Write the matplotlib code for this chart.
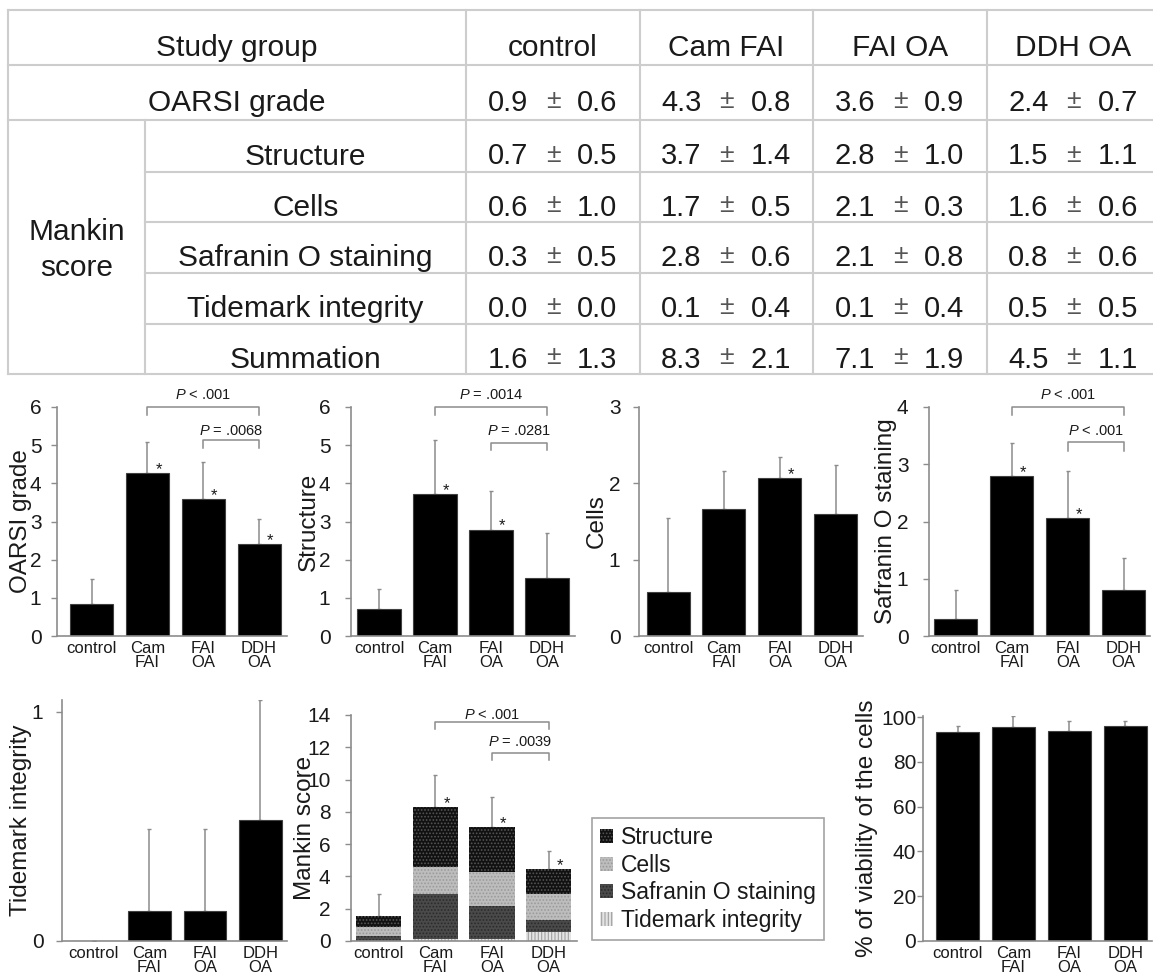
import matplotlib
matplotlib.use('Agg')
import matplotlib.pyplot as plt
from matplotlib.patches import Patch
import numpy as np

plt.rcParams['font.family'] = ['Liberation Sans', 'DejaVu Sans']
plt.rcParams['mathtext.fontset'] = 'custom'
plt.rcParams['mathtext.rm'] = 'Liberation Sans'
plt.rcParams['mathtext.it'] = 'Liberation Sans:italic'
plt.rcParams['hatch.linewidth'] = 0.8

# ---------------- data ----------------
table_groups = ['control', 'Cam FAI', 'FAI OA', 'DDH OA']
tick_labels = ['control', 'Cam\nFAI', 'FAI\nOA', 'DDH\nOA']
table_rows = ['OARSI grade', 'Structure', 'Cells', 'Safranin O staining',
              'Tidemark integrity', 'Summation']
tbl_oarsi = [(0.9, 0.6), (4.3, 0.8), (3.6, 0.9), (2.4, 0.7)]
tbl_structure = [(0.7, 0.5), (3.7, 1.4), (2.8, 1.0), (1.5, 1.1)]
tbl_cells = [(0.6, 1.0), (1.7, 0.5), (2.1, 0.3), (1.6, 0.6)]
tbl_safranin = [(0.3, 0.5), (2.8, 0.6), (2.1, 0.8), (0.8, 0.6)]
tbl_tidemark = [(0.0, 0.0), (0.1, 0.4), (0.1, 0.4), (0.5, 0.5)]
tbl_summation = [(1.6, 1.3), (8.3, 2.1), (7.1, 1.9), (4.5, 1.1)]

oarsi_mean = [0.84, 4.27, 3.60, 2.41]
oarsi_err = [0.66, 0.80, 0.96, 0.66]
structure_mean = [0.71, 3.73, 2.79, 1.53]
structure_err = [0.51, 1.40, 1.01, 1.16]
cells_mean = [0.57, 1.66, 2.07, 1.60]
cells_err = [0.97, 0.50, 0.27, 0.64]
safranin_mean = [0.29, 2.79, 2.06, 0.80]
safranin_err = [0.51, 0.58, 0.82, 0.57]
tidemark_mean = [0.0, 0.13, 0.13, 0.53]
tidemark_err = [0.0, 0.36, 0.36, 0.52]
mankin_err = [1.32, 2.0, 1.90, 1.13]
viability_mean = [93.2, 95.7, 93.6, 96.0]
viability_err = [2.9, 4.7, 4.6, 2.2]

oarsi_stars = [False, True, True, True]
structure_stars = [False, True, True, False]
cells_stars = [False, False, True, False]
safranin_stars = [False, True, True, False]
mankin_stars = [False, True, True, True]

# ---------------- figure ----------------
W, H = 1153, 977
fig = plt.figure(figsize=(W / 100, H / 100), dpi=100)
TXT = '#1a1a1a'
GRID = '#cdcdcd'
SP = '#8c8c8c'

# ---- table ----
tab = fig.add_axes([0, 0, 1, 1])
tab.set_xlim(0, W)
tab.set_ylim(H, 0)
tab.axis('off')

xl, xsub, xmain, xr = 8, 145, 466, 1160
col_lines = [466, 640, 813, 987, 1160]
row_lines = [10, 65, 120, 172, 222, 273, 324, 374]
lw_t = 1.5
for y in [row_lines[0], row_lines[1], row_lines[2], row_lines[-1]]:
    tab.plot([xl, xr], [y, y], color=GRID, lw=lw_t)
for y in row_lines[3:-1]:
    tab.plot([xsub, xr], [y, y], color=GRID, lw=lw_t)
for xx in [xl] + col_lines:
    tab.plot([xx, xx], [row_lines[0], row_lines[-1]], color=GRID, lw=lw_t)
tab.plot([xsub, xsub], [row_lines[2], row_lines[-1]], color=GRID, lw=lw_t)

fs_lab = 21.5
fs_num = 21
TSHIFT = 8


def ttext(x, yc, s, fs, ha='center', color=TXT):
    off = 0.36 * fs * 100 / 72
    tab.text(x, yc + off, s, fontsize=fs, ha=ha, va='baseline', color=color)


centers_y = [(row_lines[i] + row_lines[i + 1]) / 2 + TSHIFT for i in range(len(row_lines) - 1)]
col_cx = [(col_lines[i] + col_lines[i + 1]) / 2 for i in range(4)]
ttext((xl + xmain) / 2, centers_y[0], 'Study group', fs_lab)
for cx, g in zip(col_cx, table_groups):
    ttext(cx, centers_y[0], g, fs_lab)
ttext((xl + xmain) / 2, centers_y[1], table_rows[0], fs_lab)
for i, r in enumerate(table_rows[1:]):
    ttext((xsub + xmain) / 2, centers_y[2 + i], r, fs_lab)
mk_c = (row_lines[2] + row_lines[-1]) / 2
ttext((xl + xsub) / 2, mk_c - 18, 'Mankin', fs_lab)
ttext((xl + xsub) / 2, mk_c + 18, 'score', fs_lab)

tbl_all = [tbl_oarsi, tbl_structure, tbl_cells, tbl_safranin, tbl_tidemark, tbl_summation]
for ri, rowvals in enumerate(tbl_all):
    yc = centers_y[1 + ri]
    for cx, (m, s) in zip(col_cx, rowvals):
        ttext(cx - 25, yc, f'{m:.1f}', fs_num, ha='right')
        ttext(cx, yc - 2, '\u00b1', fs_num - 2, ha='center', color='#555555')
        ttext(cx + 24, yc, f'{s:.1f}', fs_num, ha='left')

# ---- charts ----
x = np.arange(4)
BW = 0.77


def add_ax(left, right, top, bottom):
    return fig.add_axes([left / W, 1 - bottom / H, (right - left) / W, (bottom - top) / H])


def style(ax, left, right, xlim, ylim, yticks, ylabel, lab_px, ypad):
    ax.set_xlim(*xlim)
    ax.set_ylim(*ylim)
    ax.set_yticks(yticks)
    ax.set_xticks(x)
    ax.set_xticklabels(tick_labels, fontsize=12, linespacing=0.95, color=TXT)
    for s in ['top', 'right']:
        ax.spines[s].set_visible(False)
    for s in ['left', 'bottom']:
        ax.spines[s].set_color(SP)
        ax.spines[s].set_linewidth(1.2)
    ax.tick_params(axis='x', length=0, pad=3.5)
    ax.tick_params(axis='y', length=4, width=1, color=SP, labelsize=15,
                   labelcolor=TXT, pad=ypad, direction='out')
    ax.set_ylabel(ylabel, fontsize=17.5, color=TXT)
    ax.yaxis.set_label_coords((lab_px - left) / (right - left), 0.5)
    ax.patch.set_alpha(0)


def bars(ax, mean, err):
    ax.bar(x, mean, width=BW, color='black', edgecolor='#404040', lw=0.8, zorder=2)
    ax.errorbar(x, mean, yerr=[np.zeros(4), err], fmt='none', ecolor=SP,
                elinewidth=1.1, capsize=1.5, capthick=1.0, zorder=1)


def stars(ax, mean, flags):
    for i, (m, f) in enumerate(zip(mean, flags)):
        if f:
            ax.annotate('*', (i + 0.2, m), xytext=(0, 2.5), textcoords='offset points',
                        ha='center', va='center', fontsize=12, color=TXT)


def bracket(ax, x1, x2, y, leg, text, ty):
    ax.plot([x1, x1, x2, x2], [leg, y, y, leg], color=SP, lw=1.1, clip_on=False)
    ax.text((x1 + x2) / 2, ty, text, ha='center', va='center', fontsize=10.5,
            color=TXT, clip_on=False)


# chart 1: OARSI
ax1 = add_ax(57, 287, 407, 636)
bars(ax1, oarsi_mean, oarsi_err)
stars(ax1, oarsi_mean, oarsi_stars)
style(ax1, 57, 287, (-0.62, 3.5), (0, 6), range(0, 7), 'OARSI grade', 32, 7.2)
bracket(ax1, 1, 3, 6.0, 5.8, r'$P$ < .001', 6.31)
bracket(ax1, 2, 3, 5.14, 4.92, r'$P$ = .0068', 5.37)

# chart 2: Structure
ax2 = add_ax(351, 575, 407, 636)
bars(ax2, structure_mean, structure_err)
stars(ax2, structure_mean, structure_stars)
style(ax2, 351, 575, (-0.5, 3.5), (0, 6), range(0, 7), 'Structure', 320, 10.8)
bracket(ax2, 1, 3, 6.0, 5.8, r'$P$ = .0014', 6.31)
bracket(ax2, 2, 3, 5.06, 4.87, r'$P$ = .0281', 5.37)

# chart 3: Cells
ax3 = add_ax(639, 863, 407, 636)
bars(ax3, cells_mean, cells_err)
stars(ax3, cells_mean, cells_stars)
style(ax3, 639, 863, (-0.52, 3.49), (0, 3), range(0, 4), 'Cells', 608, 9.4)

# chart 4: Safranin O
ax4 = add_ax(929, 1150, 407, 636)
bars(ax4, safranin_mean, safranin_err)
stars(ax4, safranin_mean, safranin_stars)
style(ax4, 929, 1150, (-0.48, 3.47), (0, 4), range(0, 5), 'Safranin O staining', 897, 10.8)
bracket(ax4, 1, 3, 4.0, 3.86, r'$P$ < .001', 4.21)
bracket(ax4, 2, 3, 3.38, 3.24, r'$P$ < .001', 3.58)

# chart 5: Tidemark
ax5 = add_ax(62, 287, 700, 941)
bars(ax5, tidemark_mean, tidemark_err)
style(ax5, 62, 287, (-0.575, 3.48), (0, 1.052), [0, 1], 'Tidemark integrity', 32, 9.4)

# chart 6: Mankin stacked
ax6 = add_ax(351, 577, 715, 941)
layers = [
    ('Tidemark integrity', tidemark_mean, '#e4e4e4', '#a0a0a0', '|||||'),
    ('Safranin O staining', safranin_mean, '#4a4a4a', '#2a2a2a', '.....'),
    ('Cells', cells_mean, '#bdbdbd', '#9a9a9a', '.....'),
    ('Structure', structure_mean, '#111111', '#555555', '.....'),
]
bottom = np.zeros(4)
handles = {}
for name, vals, fc, hc, hatch in layers:
    ax6.bar(x, vals, width=0.8, bottom=bottom, color=fc, edgecolor=hc, lw=0,
            hatch=hatch, zorder=2)
    handles[name] = Patch(facecolor=fc, edgecolor=hc, lw=0, hatch=hatch)
    bottom = bottom + np.array(vals)
mankin_total = bottom
ax6.errorbar(x, mankin_total, yerr=[np.zeros(4), mankin_err], fmt='none', ecolor=SP,
             elinewidth=1.1, capsize=1.5, capthick=1.0, zorder=1)
stars(ax6, mankin_total, mankin_stars)
style(ax6, 351, 577, (-0.49, 3.5), (0, 14), range(0, 15, 2), 'Mankin score', 316, 10.8)
bracket(ax6, 1, 3, 13.59, 13.15, r'$P$ < .001', 14.0)
bracket(ax6, 2, 3, 11.67, 11.2, r'$P$ = .0039', 12.35)

order = ['Structure', 'Cells', 'Safranin O staining', 'Tidemark integrity']
leg = fig.legend([handles[k] for k in order], order, loc='lower left',
                 bbox_to_anchor=(592 / W, 1 - 940 / H), fontsize=16.5,
                 frameon=True, fancybox=False, edgecolor='#8c8c8c',
                 handlelength=0.55, handleheight=0.55, handletextpad=0.35,
                 labelspacing=0.2, borderpad=0.35, borderaxespad=0)
leg.get_frame().set_linewidth(1.2)
for t in leg.get_texts():
    t.set_color(TXT)

# chart 8: viability
ax8 = add_ax(923, 1152, 716, 941)
bars(ax8, viability_mean, viability_err)
style(ax8, 923, 1152, (-0.62, 3.48), (0, 100.5), range(0, 101, 20),
      '% of viability of the cells', 878, 0.8)

fig.savefig('out.png', dpi=100)
